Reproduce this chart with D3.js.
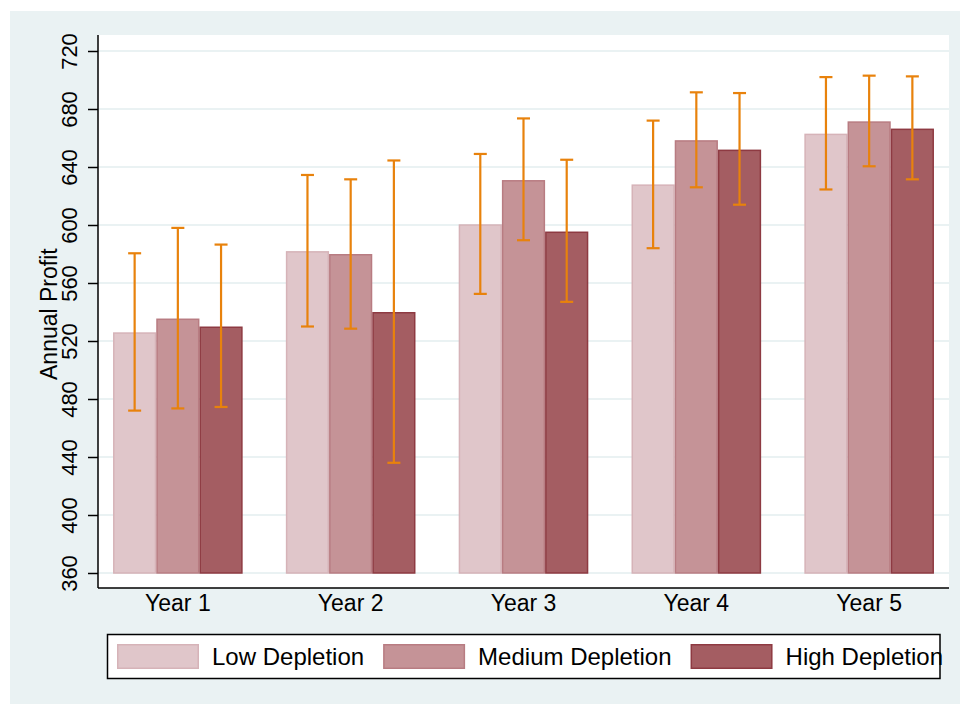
<!DOCTYPE html>
<html>
<head>
<meta charset="utf-8">
<script src="https://cdn.jsdelivr.net/npm/d3@7"></script>
<style>
  html, body { margin: 0; padding: 0; background: #ffffff; }
  svg { display: block; font-family: "Liberation Sans", Arial, Helvetica, sans-serif; }
</style>
</head>
<body>
<svg id="chart" width="960" height="704"></svg>
<script>
// Annual profit by year and depletion level, with confidence intervals
const categories = ["Year 1", "Year 2", "Year 3", "Year 4", "Year 5"];
const seriesNames = ["Low Depletion", "Medium Depletion", "High Depletion"];

const lowMean  = [526.0, 582.0, 600.5, 628.0, 663.0];
const medMean  = [535.5, 580.0, 631.0, 658.5, 671.5];
const highMean = [530.0, 540.0, 595.5, 652.0, 666.5];

const lowUpper  = [580.5, 634.5, 649.0, 672.0, 702.0];
const lowLower  = [472.0, 530.0, 552.5, 584.0, 624.5];
const medUpper  = [598.0, 631.5, 673.5, 691.5, 703.0];
const medLower  = [473.5, 528.5, 589.5, 626.0, 640.5];
const highUpper = [586.5, 644.5, 645.0, 691.0, 702.5];
const highLower = [474.5, 436.0, 547.0, 614.0, 631.5];

const yTicks = [360, 400, 440, 480, 520, 560, 600, 640, 680, 720];
const yTitle = "Annual Profit";

const fills   = ["#e0c6ca", "#c59397", "#a45d62"];
const strokes = ["#d6b3b8", "#b87c82", "#8e3a42"];
const ciColor = "#e8820c";

// Assemble per-bar records from the named arrays
const means  = [lowMean, medMean, highMean];
const uppers = [lowUpper, medUpper, highUpper];
const lowers = [lowLower, medLower, highLower];
const records = [];
categories.forEach((cat, i) => {
  seriesNames.forEach((s, j) => {
    records.push({ cat, series: s, idx: j, mean: means[j][i], hi: uppers[j][i], lo: lowers[j][i] });
  });
});

const svg = d3.select("#chart");

// Frame geometry
const outer = { x: 10, y: 11, w: 950, h: 693 };
const plot = { left: 98, right: 949, top: 35, bottom: 588 };

svg.append("rect")
  .attr("x", outer.x).attr("y", outer.y)
  .attr("width", outer.w).attr("height", outer.h)
  .attr("fill", "#eaf2f3");

svg.append("rect")
  .attr("x", plot.left).attr("y", plot.top)
  .attr("width", plot.right - plot.left).attr("height", plot.bottom - plot.top)
  .attr("fill", "#ffffff");

// Scales
const y = d3.scaleLinear().domain([360, 720]).range([573, 51]);
const x = d3.scaleBand().domain(categories)
  .range([plot.left, plot.right])
  .paddingInner(0.25).paddingOuter(0.087);
const xs = d3.scaleBand().domain(seriesNames).range([0, x.bandwidth()]).padding(0);

// Gridlines
svg.append("g")
  .selectAll("line")
  .data(yTicks)
  .join("line")
  .attr("x1", plot.left).attr("x2", plot.right)
  .attr("y1", d => y(d)).attr("y2", d => y(d))
  .attr("stroke", "#eaf2f3")
  .attr("stroke-width", 2);

// Bars
svg.append("g")
  .selectAll("rect")
  .data(records)
  .join("rect")
  .attr("x", d => x(d.cat) + xs(d.series) + 0.75)
  .attr("width", xs.bandwidth() - 1.5)
  .attr("y", d => y(d.mean) + 0.75)
  .attr("height", d => y(360) - y(d.mean) - 0.75)
  .attr("fill", d => fills[d.idx])
  .attr("stroke", d => strokes[d.idx])
  .attr("stroke-width", 1.5);

// Confidence interval bars
const ci = svg.append("g").attr("stroke", ciColor).attr("stroke-width", 2.2).attr("fill", "none");
const cx = d => x(d.cat) + xs(d.series) + xs.bandwidth() / 2;
ci.selectAll("line.v").data(records).join("line")
  .attr("class", "v")
  .attr("x1", cx).attr("x2", cx)
  .attr("y1", d => y(d.hi)).attr("y2", d => y(d.lo));
ci.selectAll("line.t").data(records).join("line")
  .attr("class", "t")
  .attr("x1", d => cx(d) - 6.5).attr("x2", d => cx(d) + 6.5)
  .attr("y1", d => y(d.hi)).attr("y2", d => y(d.hi));
ci.selectAll("line.b").data(records).join("line")
  .attr("class", "b")
  .attr("x1", d => cx(d) - 6.5).attr("x2", d => cx(d) + 6.5)
  .attr("y1", d => y(d.lo)).attr("y2", d => y(d.lo));

// Y axis
const yAxis = svg.append("g")
  .attr("transform", `translate(${plot.left},0)`)
  .call(d3.axisLeft(y).tickValues(yTicks).tickSize(10).tickFormat(d3.format("d")));
yAxis.select(".domain").remove();
yAxis.selectAll(".tick line").attr("stroke", "#000").attr("stroke-width", 1.5);
yAxis.selectAll(".tick text")
  .attr("x", null).attr("y", null).attr("dy", null)
  .attr("transform", "translate(-21,0) rotate(-90)")
  .attr("text-anchor", "middle")
  .attr("font-size", 22)
  .attr("font-family", "Liberation Sans, Arial, sans-serif")
  .attr("fill", "#000");
svg.append("line")
  .attr("x1", plot.left).attr("x2", plot.left)
  .attr("y1", plot.top).attr("y2", plot.bottom)
  .attr("stroke", "#000").attr("stroke-width", 1.5);

// Y title
svg.append("text")
  .attr("transform", "translate(57,380) rotate(-90)")
  .attr("text-anchor", "start")
  .attr("font-size", 23)
  .attr("fill", "#000")
  .text(yTitle);

// X axis
const xAxis = svg.append("g")
  .attr("transform", `translate(0,${plot.bottom})`)
  .call(d3.axisBottom(x).tickSize(0));
xAxis.select(".domain").remove();
xAxis.selectAll(".tick text")
  .attr("y", 23).attr("dy", null)
  .attr("font-size", 23)
  .attr("font-family", "Liberation Sans, Arial, sans-serif")
  .attr("fill", "#000");
svg.append("line")
  .attr("x1", plot.left).attr("x2", plot.right)
  .attr("y1", plot.bottom).attr("y2", plot.bottom)
  .attr("stroke", "#000").attr("stroke-width", 1.5);

// Legend
const legendBox = { x: 107.5, y: 634.5, w: 832.5, h: 44 };
const legend = svg.append("g");
legend.append("rect")
  .attr("x", legendBox.x).attr("y", legendBox.y)
  .attr("width", legendBox.w).attr("height", legendBox.h)
  .attr("fill", "#fff").attr("stroke", "#000").attr("stroke-width", 1.5);

let lx = 117;
seriesNames.forEach((name, j) => {
  legend.append("rect")
    .attr("x", lx + 0.75).attr("y", 644.75)
    .attr("width", 80.5).attr("height", 23.5)
    .attr("fill", fills[j]).attr("stroke", strokes[j]).attr("stroke-width", 1.5);
  const t = legend.append("text")
    .attr("x", lx + 95).attr("y", 665)
    .attr("font-size", 24)
    .attr("fill", "#000")
    .text(name);
  lx = lx + 95 + t.node().getComputedTextLength() + 19;
});
</script>
</body>
</html>
